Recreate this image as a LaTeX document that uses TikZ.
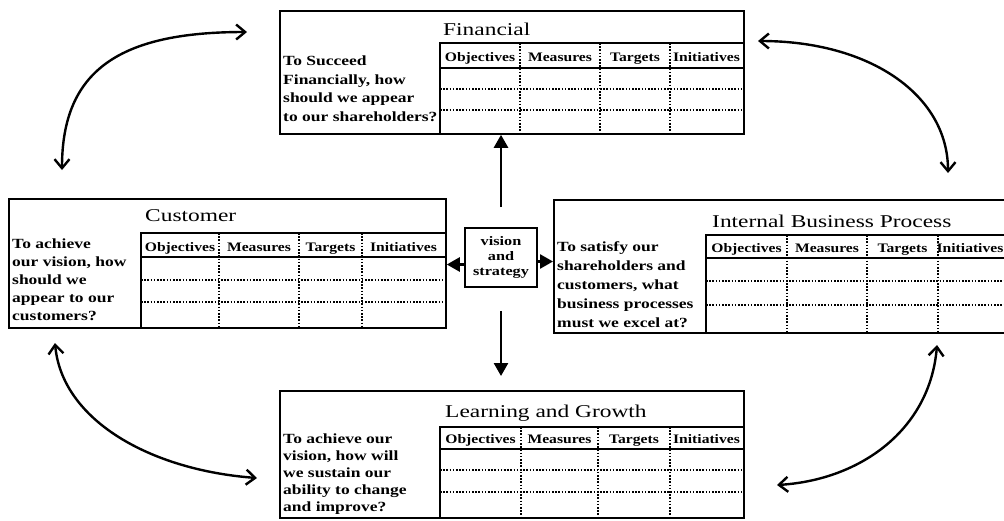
\documentclass[tikz,border=0pt]{standalone}
\usepackage{fontspec}
\setmainfont{Liberation Serif}
\newfontfamily\widefont[FakeStretch=1.3]{Liberation Serif}
\newfontfamily\headfont[FakeStretch=1.2]{Liberation Serif}
\newfontfamily\widerfont[FakeStretch=1.25]{Liberation Serif}
\usetikzlibrary{arrows.meta,calc}

\tikzset{
  panel/.style={draw, line width=1.8pt, rectangle, inner sep=0pt, anchor=north west},
  tableedge/.style={line width=2.2pt},
  gridline/.style={line width=1.1pt, dash pattern=on 1.6pt off 1.6pt},
  heading/.style={anchor=base west, inner sep=0pt, font=\widefont\fontsize{18}{20}\selectfont},
  colhead/.style={anchor=base, inner sep=0pt, font=\headfont\bfseries\fontsize{13}{14}\selectfont},
  question/.style={anchor=north west, inner sep=0pt, align=left, font=\widerfont\bfseries\fontsize{14}{#1}\selectfont},
  hub/.style={draw, line width=1.8pt, rectangle, inner sep=0pt, minimum width=72pt, minimum height=59pt, align=center, font=\widerfont\bfseries\fontsize{13}{15}\selectfont},
  mainarrow/.style={line width=2.6pt, -{Triangle[length=13pt,width=14pt]}},
  linkarrow/.style={line width=2.4pt, {Straight Barb[length=9pt,width=15pt]}-{Straight Barb[length=9pt,width=15pt]}},
}

\begin{document}
\begin{tikzpicture}[x=1pt,y=-1pt]
\clip (0,0) rectangle (1004,520);
\fill[white] (0,0) rectangle (1004,520);

% ---------- the four perspectives ----------
\node[panel, minimum width=464pt, minimum height=123pt] (fin) at (279,10) {};
\node[panel, minimum width=437pt, minimum height=129pt] (cust) at (8,198) {};
\node[panel, minimum width=460pt, minimum height=133pt] (ibp) at (553,199) {};
\node[panel, minimum width=464pt, minimum height=127pt] (learn) at (279,390) {};
\node[hub] (vision) at (501,257.5) {vision\\and\\strategy};

% Financial
\node[heading] (fintitle) at (443,35) {Financial};
\node[question=18.5] (finq) at (283,56) {To Succeed\\Financially, how\\should we appear\\to our shareholders?};
\draw[tableedge] (440,133) -- (440,43) -- (743,43);
\draw[tableedge] (440,68) -- (743,68);
\draw[gridline] (440,89) -- (743,89) (440,110) -- (743,110);
\draw[gridline] (520,43) -- (520,133) (600,43) -- (600,133) (670,43) -- (670,133);
\foreach \x/\t [count=\i] in {480/Objectives,560/Measures,635/Targets,706.5/Initiatives}
  \node[colhead] (finh\i) at (\x,61) {\t};

% Customer
\node[heading] (custtitle) at (145,221) {Customer};
\node[question=18] (custq) at (12,239) {To achieve\\our vision, how\\should we\\appear to our\\customers?};
\draw[tableedge] (141,327) -- (141,233) -- (445,233);
\draw[tableedge] (141,257) -- (445,257);
\draw[gridline] (141,280) -- (445,280) (141,302) -- (445,302);
\draw[gridline] (219,233) -- (219,327) (299,233) -- (299,327) (362,233) -- (362,327);
\foreach \x/\t [count=\i] in {180/Objectives,259/Measures,330.5/Targets,403.5/Initiatives}
  \node[colhead] (custh\i) at (\x,251) {\t};

% Internal Business Process
\node[heading] (ibptitle) at (712,227) {Internal Business Process};
\node[question=19] (ibpq) at (557,241) {To satisfy our\\shareholders and\\customers, what\\business processes\\must we excel at?};
\draw[tableedge] (706,332) -- (706,235) -- (1013,235);
\draw[tableedge] (706,258) -- (1013,258);
\draw[gridline] (706,281) -- (1013,281) (706,305) -- (1013,305);
\draw[gridline] (787,235) -- (787,332) (867,235) -- (867,332) (938,235) -- (938,332);
\foreach \x/\t [count=\i] in {746.5/Objectives,827/Measures,902.5/Targets,970/Initiatives}
  \node[colhead] (ibph\i) at (\x,252) {\t};

% Learning and Growth
\node[heading] (learntitle) at (445,417) {Learning and Growth};
\node[question=17] (learnq) at (283,434) {To achieve our\\vision, how will\\we sustain our\\ability to change\\and improve?};
\draw[tableedge] (440,517) -- (440,427) -- (743,427);
\draw[tableedge] (440,449) -- (743,449);
\draw[gridline] (440,470) -- (743,470) (440,492) -- (743,492);
\draw[gridline] (521,427) -- (521,517) (598,427) -- (598,517) (670,427) -- (670,517);
\foreach \x/\t [count=\i] in {480.5/Objectives,559.5/Measures,634/Targets,706.5/Initiatives}
  \node[colhead] (learnh\i) at (\x,443) {\t};

% ---------- arrows out of vision and strategy ----------
\coordinate (vn) at ([yshift=20pt]vision.north);
\coordinate (vs) at ([yshift=-23pt]vision.south);
\coordinate (vw) at ([yshift=-7pt]vision.west);
\coordinate (ve) at ([yshift=-4pt]vision.east);
\draw[mainarrow] (vn) -- (vn |- fin.south);
\draw[mainarrow] (vs) -- ($(vs |- learn.north)+(0,-14)$);
\draw[mainarrow] (vw) -- (vw -| cust.east);
\draw[mainarrow] (ve) -- (ve -| ibp.west);

% ---------- curved links between neighbouring perspectives ----------
\coordinate (cf1) at (62,170);  \coordinate (cf2) at (247,32);
\coordinate (fi1) at (758,41);  \coordinate (fi2) at (948,173);
\coordinate (cl1) at (55,343);  \coordinate (cl2) at (257,478);
\coordinate (il1) at (937,345); \coordinate (il2) at (777,485);
\draw[linkarrow] (cf1) .. controls (62,70) and (120,32) .. (cf2);
\draw[linkarrow] (fi1) .. controls (870,41) and (948,95) .. (fi2);
\draw[linkarrow] (cl1) .. controls (62,420) and (150,470) .. (cl2);
\draw[linkarrow] (il1) .. controls (930,430) and (860,480) .. (il2);
\end{tikzpicture}
\end{document}
